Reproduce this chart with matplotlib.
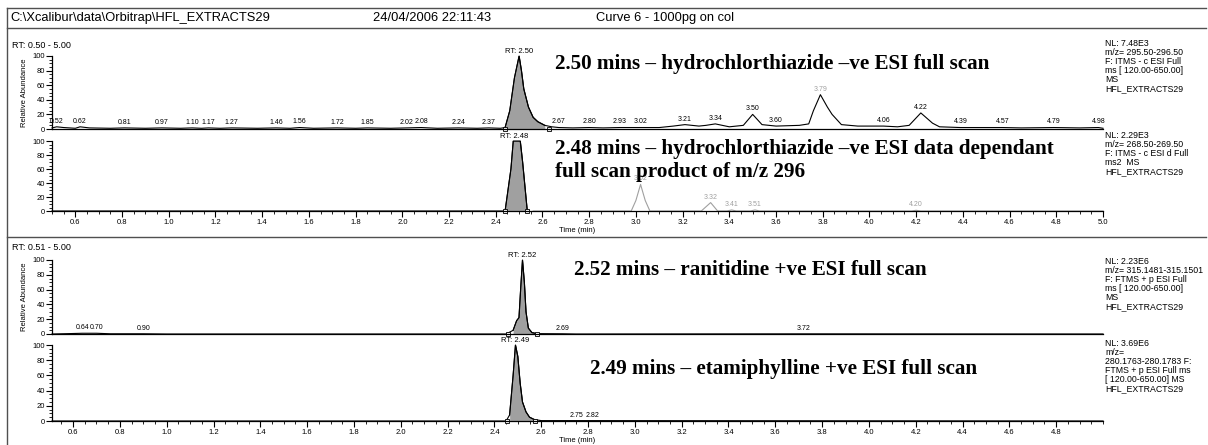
#!/usr/bin/env python3
"""
Xcalibur-style chromatogram page: four extracted ion traces
Saves out.png (1208 x 445)
"""

import numpy as np
import matplotlib.pyplot as plt
from matplotlib.lines import Line2D
from matplotlib.ticker import MultipleLocator, FixedLocator

# ---- data (time in min, relative abundance %) ----
hctz_full_t = [0.50, 0.52, 0.55, 0.60, 0.62, 0.66, 0.75, 0.81, 0.90, 0.97, 1.05, 1.10,
               1.14, 1.17, 1.22, 1.27, 1.38, 1.46, 1.52, 1.56, 1.62, 1.72, 1.80, 1.85,
               1.95, 2.02, 2.08, 2.15, 2.24, 2.32, 2.37, 2.42, 2.44, 2.46, 2.48, 2.50,
               2.51, 2.52, 2.54, 2.56, 2.58, 2.61, 2.64, 2.67, 2.73, 2.80, 2.86, 2.93,
               3.02, 3.10, 3.16, 3.21, 3.27, 3.30, 3.34, 3.40, 3.46, 3.50, 3.54, 3.60,
               3.70, 3.74, 3.76, 3.79, 3.82, 3.84, 3.88, 3.95, 4.00, 4.06, 4.12, 4.17,
               4.22, 4.27, 4.30, 4.39, 4.50, 4.57, 4.65, 4.79, 4.90, 4.98, 5.00]
hctz_full_v = [1.5, 3.0, 2.0, 1.0, 3.0, 1.5, 1.0, 1.5, 1.0, 1.5, 1.0, 1.5,
               1.0, 1.5, 1.0, 1.5, 1.0, 1.5, 1.0, 2.0, 1.0, 1.5, 1.0, 1.5,
               1.0, 1.5, 2.0, 1.0, 1.5, 1.0, 1.5, 1.0, 2.0, 25.0, 70.0, 100.0,
               80.0, 55.0, 30.0, 16.0, 10.0, 5.0, 3.0, 2.0, 1.5, 2.0, 1.5, 2.0,
               2.0, 2.0, 4.0, 6.0, 4.0, 5.0, 7.0, 3.0, 5.0, 20.0, 6.0, 4.0,
               5.0, 7.0, 25.0, 47.0, 30.0, 20.0, 6.0, 4.0, 4.0, 4.0, 3.0, 5.0,
               22.0, 8.0, 3.0, 2.0, 2.0, 2.0, 1.5, 2.0, 1.5, 2.0, 1.0]
hctz_full_labels = [0.52, 0.62, 0.81, 0.97, 1.10, 1.17, 1.27, 1.46, 1.56, 1.72, 1.85,
                    2.02, 2.08, 2.24, 2.37, 2.67, 2.80, 2.93, 3.02, 3.21, 3.34, 3.50,
                    3.60, 3.79, 4.06, 4.22, 4.39, 4.57, 4.79, 4.98]

hctz_ms2_t = [0.50, 2.440, 2.465, 2.475, 2.505, 2.515, 2.535, 2.56, 2.98, 3.00, 3.02,
              3.04, 3.06, 3.28, 3.32, 3.35, 3.39, 3.41, 3.43, 3.49, 3.51, 3.53,
              4.18, 4.20, 4.22, 5.00]
hctz_ms2_v = [0.0, 0.0, 60.0, 100.0, 100.0, 70.0, 0.0, 0.0, 0.0, 15.0, 38.0,
              15.0, 0.0, 0.0, 12.0, 0.0, 0.0, 1.5, 0.0, 0.0, 1.5, 0.0,
              0.0, 1.0, 0.0, 0.0]
hctz_ms2_labels = [3.02, 3.32, 3.41, 3.51, 4.20]

ranit_t = [0.51, 0.58, 0.64, 0.70, 0.76, 0.90, 1.00, 2.45, 2.48, 2.495, 2.505, 2.512,
           2.52, 2.528, 2.535, 2.545, 2.56, 2.58, 2.69, 2.75, 3.72, 5.00]
ranit_v = [0.0, 0.5, 1.0, 1.0, 0.3, 0.3, 0.0, 0.0, 5.0, 18.0, 22.0, 60.0,
           100.0, 70.0, 30.0, 8.0, 2.0, 0.5, 0.3, 0.0, 0.2, 0.0]
ranit_labels = [0.64, 0.70, 0.90, 2.69, 3.72]

etam_t = [0.51, 2.45, 2.465, 2.48, 2.49, 2.50, 2.51, 2.52, 2.535, 2.55, 2.57, 2.60,
          2.75, 2.82, 5.00]
etam_v = [0.0, 0.0, 8.0, 60.0, 100.0, 85.0, 50.0, 25.0, 12.0, 5.0, 2.0, 0.5,
          0.5, 0.5, 0.0]
etam_labels = [2.75, 2.82]

# apex labels (RT) and filled peak ranges
apex_rt = [2.50, 2.48, 2.52, 2.49]
fill_ranges = [(2.44, 2.63), (2.44, 2.535), (2.46, 2.58), (2.455, 2.575)]

titles = [["2.50 mins \u2013 hydrochlorthiazide \u2013ve ESI full scan"],
          ["2.48 mins \u2013 hydrochlorthiazide \u2013ve ESI data dependant",
           "full scan product of m/z 296"],
          ["2.52 mins \u2013 ranitidine +ve ESI full scan"],
          ["2.49 mins \u2013 etamiphylline +ve ESI full scan"]]

nl_texts = [["NL: 7.48E3", "m/z= 295.50-296.50", "F: ITMS - c ESI Full",
             "ms [ 120.00-650.00]", "MS", "HFL_EXTRACTS29"],
            ["NL: 2.29E3", "m/z= 268.50-269.50", "F: ITMS - c ESI d Full",
             "ms2  MS", "HFL_EXTRACTS29"],
            ["NL: 2.23E6", "m/z= 315.1481-315.1501", "F: FTMS + p ESI Full",
             "ms [ 120.00-650.00]", "MS", "HFL_EXTRACTS29"],
            ["NL: 3.69E6", "m/z=", "280.1763-280.1783 F:", "FTMS + p ESI Full ms",
             "[ 120.00-650.00] MS", "HFL_EXTRACTS29"]]

# ---- page layout in pixels ----
W, H = 1208, 445
AX_L, AX_R = 52, 1103
panel_px = [(56, 129), (141, 211), (260, 334), (345, 421)]   # (y of 100, y of 0)
title_px = [(555, 64), (555, 139), (574, 270), (590, 369)]
nl_top = [39, 131, 257, 339]
SANS = "Liberation Sans"
SERIF = "Liberation Serif"
GREY = "#a0a0a0"
FRAME = "#505050"


def px(x, y):
    return x / W, 1 - y / H


def make_axes(fig, top, bottom, xmin):
    ax = fig.add_axes([AX_L / W, 1 - bottom / H, (AX_R - AX_L) / W, (bottom - top) / H])
    ax.set_xlim(xmin, 5.0)
    ax.set_ylim(0, 100)
    for s in ("top", "right"):
        ax.spines[s].set_visible(False)
    for s in ("left", "bottom"):
        ax.spines[s].set_linewidth(0.9)
    ax.yaxis.set_major_locator(MultipleLocator(20))
    ax.yaxis.set_minor_locator(MultipleLocator(5))
    ax.tick_params(axis="y", which="major", length=4, width=0.8, labelsize=5.5, pad=1)
    ax.tick_params(axis="y", which="minor", length=2, width=0.6)
    for lab in ax.get_yticklabels():
        lab.set_family(SANS)
    ax.patch.set_alpha(0)
    return ax


def draw_trace(ax, t, v, rng, rt, labels, grey_after=None, grey_labels=()):
    t = np.array(t)
    v = np.array(v)
    if grey_after is None:
        ax.plot(t, v, color="black", lw=0.8, clip_on=False)
    else:
        k = t <= grey_after
        ax.plot(t[k], v[k], color="black", lw=0.8, clip_on=False)
        ax.plot(t[~k], v[~k], color=GREY, lw=0.8, clip_on=False)
    m = (t >= rng[0]) & (t <= rng[1])
    ax.fill_between(t[m], v[m], color=GREY, lw=0)
    ax.plot(t[m], v[m], color="black", lw=0.8)
    ax.plot([rng[0], rng[1]], [0, 0], ls="none", marker="s", ms=3.2,
            mfc="white", mec="black", mew=0.6, clip_on=False)
    ax.text(rt, np.interp(rt, t, v) + 1, f"RT: {rt:.2f}", ha="center", va="bottom",
            fontsize=5.5, family=SANS, clip_on=False)
    for lt in labels:
        col = GREY if lt in grey_labels else "black"
        ax.annotate(f"{lt:.2f}", (lt, np.interp(lt, t, v)), xytext=(0, 1.5),
                    textcoords="offset points", ha="center", va="bottom",
                    fontsize=5.0, family=SANS, color=col)


def set_time_axis(ax, majors):
    ax.xaxis.set_major_locator(FixedLocator(majors))
    ax.xaxis.set_minor_locator(MultipleLocator(0.05))
    ax.set_xticklabels([f"{m:.1f}" for m in majors], family=SANS, fontsize=5.5)
    ax.tick_params(axis="x", which="major", length=4, width=0.8, pad=1.5)
    ax.tick_params(axis="x", which="minor", length=2, width=0.6)


def main():
    fig = plt.figure(figsize=(W / 100, H / 100), dpi=100)

    # page frame lines
    for (x0, y0, x1, y1) in [(7, 8, 1206, 8), (7, 28, 1206, 28), (7, 8, 7, 445),
                             (7, 237, 1206, 237)]:
        a, b = px(x0, y0)
        c, d = px(x1, y1)
        fig.add_artist(Line2D([a, c], [b, d], color=FRAME, lw=1.0))

    fig.text(*px(10, 18), "C:\\Xcalibur\\data\\Orbitrap\\HFL_EXTRACTS29",
             fontsize=9.3, family=SANS, va="center")
    fig.text(*px(373, 18), "24/04/2006 22:11:43", fontsize=9.3, family=SANS, va="center")
    fig.text(*px(596, 18), "Curve 6 - 1000pg on col", fontsize=9.3, family=SANS,
             va="center")
    fig.text(*px(12, 45), "RT: 0.50 - 5.00", fontsize=6.5, family=SANS, va="center")
    fig.text(*px(12, 247), "RT: 0.51 - 5.00", fontsize=6.5, family=SANS, va="center")

    axes = []
    for i, (top, bottom) in enumerate(panel_px):
        axes.append(make_axes(fig, top, bottom, 0.50 if i < 2 else 0.51))

    draw_trace(axes[0], hctz_full_t, hctz_full_v, fill_ranges[0], apex_rt[0],
               hctz_full_labels, grey_labels=(3.79,))
    draw_trace(axes[1], hctz_ms2_t, hctz_ms2_v, fill_ranges[1], apex_rt[1],
               hctz_ms2_labels, grey_after=2.55, grey_labels=tuple(hctz_ms2_labels))
    draw_trace(axes[2], ranit_t, ranit_v, fill_ranges[2], apex_rt[2], ranit_labels)
    draw_trace(axes[3], etam_t, etam_v, fill_ranges[3], apex_rt[3], etam_labels)

    for ax in (axes[0], axes[2]):
        ax.set_xticks([])
        ax.set_ylabel("Relative Abundance", fontsize=5.5, family=SANS, labelpad=3)
    set_time_axis(axes[1], [round(0.6 + 0.2 * k, 1) for k in range(23)])
    set_time_axis(axes[3], [round(0.6 + 0.2 * k, 1) for k in range(22)])
    for ax in (axes[1], axes[3]):
        ax.set_xlabel("Time (min)", fontsize=5.5, family=SANS, labelpad=1)

    # bold captions and NL blocks
    for (x, y), lines in zip(title_px, titles):
        fig.text(*px(x, y), "\n".join(lines), fontsize=15.2, family=SERIF,
                 fontweight="bold", va="top" if len(lines) > 1 else "center",
                 linespacing=1.2)
    for y, lines in zip(nl_top, nl_texts):
        fig.text(*px(1105, y), "\n".join(lines), fontsize=6.3, family=SANS,
                 va="top", linespacing=1.0)

    fig.savefig("out.png", dpi=100)


if __name__ == "__main__":
    main()
